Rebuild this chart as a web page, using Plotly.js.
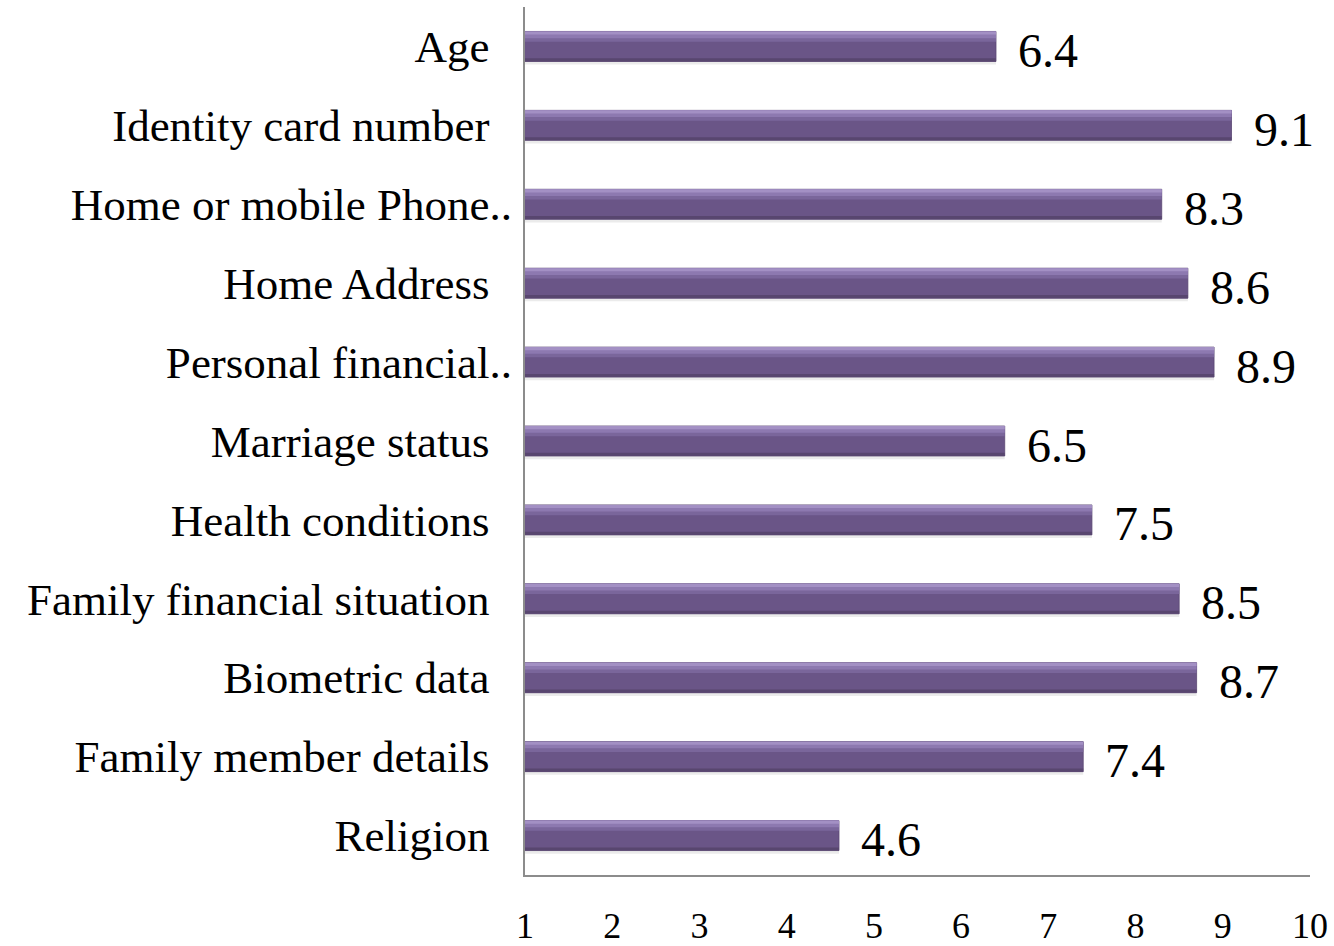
<!DOCTYPE html>
<html>
<head>
<meta charset="utf-8">
<script src="https://cdn.plot.ly/plotly-3.0.1.min.js"></script>
<style>html,body{margin:0;padding:0;background:#fff;}#chart{width:1334px;height:946px;}</style>
</head>
<body>
<div id="chart"></div>
<script>
const categories = ["Age", "Identity card number", "Home or mobile Phone..", "Home Address", "Personal financial..", "Marriage status", "Health conditions", "Family financial situation", "Biometric data", "Family member details", "Religion"];
const values = [6.4, 9.1, 8.3, 8.6, 8.9, 6.5, 7.5, 8.5, 8.7, 7.4, 4.6];
const xTicks = [1, 2, 3, 4, 5, 6, 7, 8, 9, 10];

const FONT = "Liberation Serif, Times New Roman, serif";
const idx = categories.map((_, i) => i);
const tickText = categories.map(c => c.endsWith("..") ? c : c + "\u00A0\u00A0");

function layer(color, width, offset, extra) {
  return Object.assign({
    type: "bar", orientation: "h", x: values, y: idx,
    width: width, offset: offset,
    marker: {color: color, line: {width: 0}},
    hoverinfo: "skip", showlegend: false
  }, extra || {});
}

const traces = [
  layer("rgba(0,0,0,0.08)", 0.40, -0.17),
  layer("#6a5587", 0.38, -0.19, {marker: {color: "#6a5587", line: {width: 0.8, color: "#5a4874"}}}),
  layer("#7a669b", 0.13, -0.19),
  layer("#8d79b0", 0.085, -0.19),
  layer("#a390c4", 0.04, -0.19),
  layer("#58466f", 0.04, 0.15)
];

const annotations = values.map((v, i) => ({
  x: v, y: i, xref: "x", yref: "y",
  text: String(v), showarrow: false,
  xanchor: "left", yanchor: "middle", xshift: 20, yshift: -4,
  font: {family: FONT, size: 48, color: "#000"}
}));

const layout = {
  width: 1334, height: 946,
  margin: {l: 525, r: 24, t: 7, b: 71},
  paper_bgcolor: "#fff", plot_bgcolor: "#fff",
  barmode: "overlay",
  xaxis: {
    range: [1, 10], tickvals: xTicks, ticktext: xTicks.map(String),
    showgrid: false, zeroline: false, showline: true, linecolor: "#8c8c8c", linewidth: 2,
    ticks: "", ticklabelstandoff: 18,
    tickfont: {family: FONT, size: 36, color: "#000"}
  },
  yaxis: {
    range: [10.5, -0.5], tickvals: idx, ticktext: tickText,
    showgrid: false, zeroline: false, showline: true, linecolor: "#8c8c8c", linewidth: 2,
    ticks: "", ticklabelstandoff: 2,
    tickfont: {family: FONT, size: 45, color: "#000"}
  },
  annotations: annotations
};

Plotly.newPlot("chart", traces, layout, {displayModeBar: false, staticPlot: true});
</script>
</body>
</html>
